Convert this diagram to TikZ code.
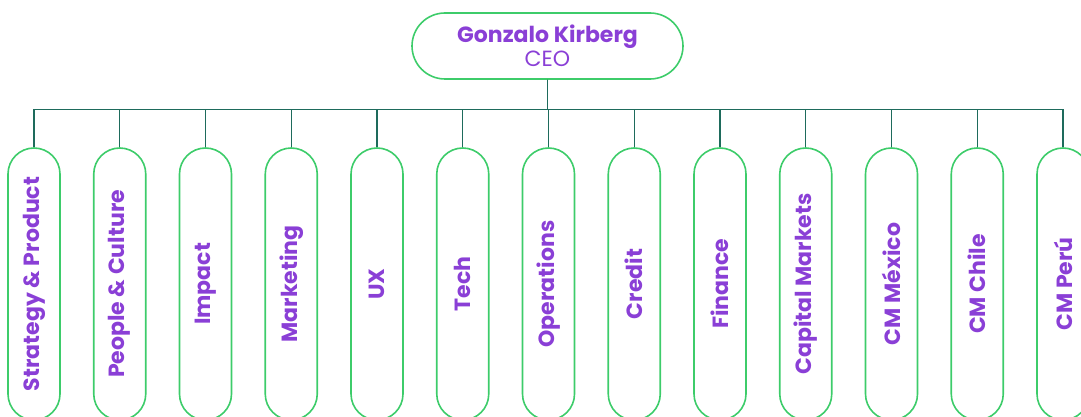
\documentclass[tikz,border=0pt]{standalone}
\usepackage{fontspec}
\setmainfont{Poppins}
\usepackage{tikz}
\usetikzlibrary{positioning}

\definecolor{pillgreen}{HTML}{3DCC6A}
\definecolor{textpurple}{HTML}{8A3FD6}
\definecolor{linkteal}{HTML}{1E6B5C}

\begin{document}
\begin{tikzpicture}[
    x=1pt, y=1pt,
    ceonode/.style={rectangle, draw=pillgreen, line width=1.6pt, rounded corners=33pt, minimum width=271pt, minimum height=66pt, inner sep=0pt, align=center, text=textpurple, font=\fontsize{22}{25}\selectfont},
    deptnode/.style={rectangle, draw=pillgreen, line width=1.6pt, rounded corners=26pt, minimum width=52pt, minimum height=272pt, inner sep=0pt, text=textpurple, font=\fontsize{22}{25}\selectfont\bfseries},
    link/.style={draw=linkteal, line width=1.2pt},
    node distance=32.15pt
   ]
   \useasboundingbox (0,0) rectangle (1081,-417);
   \node[ceonode]  (ceo)  at (547.5,-46)  {{\bfseries Gonzalo Kirberg}\\[-1pt]CEO};
   \node[deptnode] (strategy)   at (34,-284)          {\rotatebox{90}{Strategy \& Product}};
   \node[deptnode] (people)     [right=of strategy]   {\rotatebox{90}{People \& Culture}};
   \node[deptnode] (impact)     [right=of people]     {\rotatebox{90}{Impact}};
   \node[deptnode] (marketing)  [right=of impact]     {\rotatebox{90}{Marketing}};
   \node[deptnode] (ux)         [right=of marketing]  {\rotatebox{90}{UX}};
   \node[deptnode] (tech)       [right=of ux]         {\rotatebox{90}{Tech}};
   \node[deptnode] (operations) [right=of tech]       {\rotatebox{90}{Operations}};
   \node[deptnode] (credit)     [right=of operations] {\rotatebox{90}{Credit}};
   \node[deptnode] (finance)    [right=of credit]     {\rotatebox{90}{Finance}};
   \node[deptnode] (capital)    [right=of finance]    {\rotatebox{90}{Capital Markets}};
   \node[deptnode] (mexico)     [right=of capital]    {\rotatebox{90}{CM México}};
   \node[deptnode] (chile)      [right=of mexico]     {\rotatebox{90}{CM Chile}};
   \node[deptnode] (peru)       [right=of chile]      {\rotatebox{90}{CM Perú}};

  \foreach \d in {strategy,people,impact,marketing,ux,tech,operations,credit,finance,capital,mexico,chile,peru}
    \draw[link] (ceo.south) -- ++(0,-29.5) -| (\d.north);
 \end{tikzpicture}
\end{document}
